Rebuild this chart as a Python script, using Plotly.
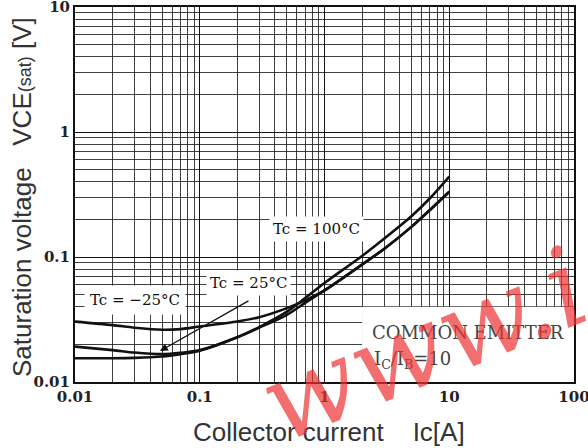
import math
import plotly.graph_objects as go

# ---- data ----
ic_a = [0.01, 0.02, 0.03, 0.05, 0.07, 0.1, 0.2, 0.3, 0.5, 0.7, 1, 2, 3, 5, 7, 10]
vce_m25 = [0.0304, 0.0285, 0.0272, 0.0262, 0.0265, 0.0278, 0.0305, 0.033, 0.039, 0.045, 0.054,
           0.087, 0.116, 0.175, 0.238, 0.333]
vce_25 = [0.0192, 0.0180, 0.0172, 0.0167, 0.0171, 0.0180, 0.0228, 0.0272, 0.0345, 0.0430, 0.0540,
          0.087, 0.116, 0.175, 0.238, 0.333]
vce_100 = [0.0155, 0.0155, 0.0156, 0.0160, 0.0167, 0.0178, 0.0228, 0.0275, 0.0365, 0.047, 0.062,
           0.102, 0.140, 0.213, 0.295, 0.44]

x_ticks = [0.01, 0.1, 1, 10, 100]
x_tick_text = ["0.01", "0.1", "1", "10", "100"]
y_ticks = [0.01, 0.1, 1, 10]
y_tick_text = ["0.01", "0.1", "1", "10"]

series = [("Tc=-25°C", vce_m25), ("Tc=25°C", vce_25), ("Tc=100°C", vce_100)]

fig = go.Figure()
for name, vals in series:
    fig.add_trace(go.Scatter(x=ic_a, y=vals, mode="lines", name=name,
                             line=dict(color="#111111", width=2.6, shape="spline", smoothing=0.8),
                             showlegend=False, hoverinfo="skip"))

minor_x = [m * 10 ** e for e in range(-2, 2) for m in range(2, 10)]
minor_y = [m * 10 ** e for e in range(-2, 1) for m in range(2, 10)]

serif = "DejaVu Serif"
sans = "Liberation Sans"
tick_font = dict(family=serif, size=15, color="#222222", weight="bold")
grid_major = dict(showgrid=True, gridcolor="#111111", gridwidth=1.4)
grid_minor = dict(showgrid=True, gridcolor="rgba(30,30,30,0.85)", gridwidth=1.4, ticks="")

fig.update_xaxes(type="log", range=[-2, 2], tickvals=x_ticks, ticktext=x_tick_text,
                 minor=dict(tickvals=minor_x, **grid_minor), **grid_major,
                 showline=True, linecolor="#111111", linewidth=2, mirror=True, ticks="",
                 tickfont=tick_font, zeroline=False, automargin=False,
                 ticklabeloverflow="allow")
fig.update_yaxes(type="log", range=[-2, 1], tickvals=y_ticks, ticktext=y_tick_text,
                 minor=dict(tickvals=minor_y, **grid_minor), **grid_major,
                 showline=True, linecolor="#111111", linewidth=2, mirror=True, ticks="",
                 tickfont=tick_font, zeroline=False, automargin=False,
                 ticklabeloverflow="allow")

# white region behind the COMMON EMITTER note
fig.add_shape(type="rect", xref="x", yref="y", x0=2.0, x1=100, y0=0.01, y1=0.04,
              fillcolor="white", line=dict(width=0), layer="between")

lab_font = dict(family=serif, size=15, color="#111111")
L = math.log10
fig.add_annotation(x=L(0.0303), y=L(0.0453), text="Tc = −25°C", showarrow=False,
                   font=lab_font, bgcolor="white", borderpad=5)
fig.add_annotation(x=L(0.244), y=L(0.062), text="Tc = 25°C", showarrow=False,
                   font=lab_font, bgcolor="white", borderpad=3)
fig.add_annotation(x=L(0.87), y=L(0.167), text="Tc = 100°C", showarrow=False,
                   font=lab_font, bgcolor="white", borderpad=3)
# arrow pointing from the Tc=25 label to the curve
fig.add_annotation(x=L(0.048), y=L(0.0177), ax=90, ay=-51, text="", showarrow=True,
                   arrowhead=2, arrowsize=1.2, arrowwidth=1.3, arrowcolor="#111111")

note_font = dict(family=serif, size=18, color="#444444")
fig.add_annotation(x=L(2.3), y=L(0.0251), text="COMMON EMITTER", showarrow=False,
                   xanchor="left", yanchor="middle", font=note_font)
fig.add_annotation(x=L(2.4), y=L(0.015), text="I<sub>C</sub>/I<sub>B</sub>=10", showarrow=False,
                   xanchor="left", yanchor="middle", font=note_font)

# axis titles
fig.add_annotation(xref="paper", yref="paper", x=(329 - 75) / 499, y=0, yshift=-50,
                   text="Collector current&nbsp;&nbsp;&nbsp; Ic[A]", showarrow=False,
                   font=dict(family=sans, size=26, color="#333333"),
                   xanchor="center", yanchor="middle")
fig.add_annotation(xref="paper", yref="paper", x=0, xshift=-53, y=(382 - 197) / 375,
                   text="Saturation voltage&nbsp;&nbsp; VCE<span style='font-size:18px'>(sat)</span> [V]",
                   textangle=-90, showarrow=False,
                   font=dict(family=sans, size=26, color="#333333"),
                   xanchor="center", yanchor="middle")

# red watermark
fig.add_annotation(xref="paper", yref="paper", x=0.7, y=0.1, text="<i>www.i</i>",
                   showarrow=False, textangle=-22, xanchor="center", yanchor="middle",
                   font=dict(family="DejaVu Serif", size=110, color="rgba(238,50,50,0.7)"))

fig.update_layout(width=588, height=448, margin=dict(l=75, r=14, t=7, b=66),
                  paper_bgcolor="white", plot_bgcolor="white", showlegend=False)

fig.write_html("out.html", config={"displayModeBar": False},
               post_script="document.body.style.margin='0';document.body.style.overflow='hidden';")
